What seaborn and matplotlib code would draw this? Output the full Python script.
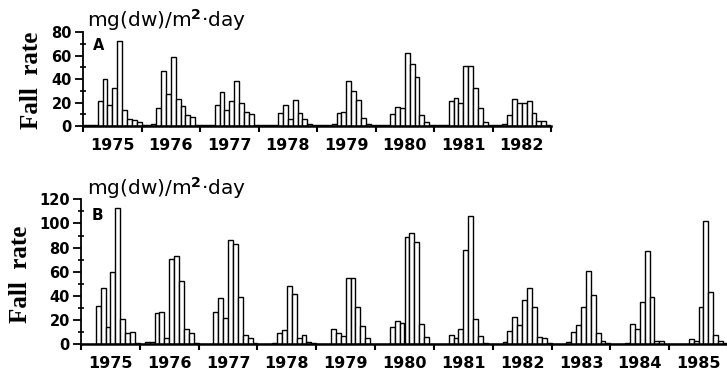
import numpy as np
import pandas as pd
import matplotlib
matplotlib.use("Agg")
import matplotlib.pyplot as plt
import seaborn as sns

# ---------------- data ----------------
months = list(range(1, 13))
years_a = [1975, 1976, 1977, 1978, 1979, 1980, 1981, 1982]
years_b = [1975, 1976, 1977, 1978, 1979, 1980, 1981, 1982, 1983, 1984, 1985]

# Panel A, monthly fall rate mg(dw)/m2/day (Jan..Dec of each year)
fall_a_1975 = [0.5, 0.5, 1, 21, 40, 18, 32, 72, 14, 6, 5, 3]
fall_a_1976 = [0.5, 1, 2, 15, 47, 27, 59, 23, 17, 9, 8, 1]
fall_a_1977 = [0.5, 0.5, 0.5, 18, 29, 14, 21, 38, 20, 12, 10, 1]
fall_a_1978 = [0.5, 0.5, 0.5, 1, 11, 18, 6, 22, 11, 6, 2, 1]
fall_a_1979 = [0.5, 0.5, 0.5, 2, 11, 12, 38, 30, 22, 7, 2, 1]
fall_a_1980 = [0.5, 0.5, 1, 10, 16, 15, 62, 53, 42, 9, 3, 1]
fall_a_1981 = [0.5, 0.5, 1, 21, 24, 20, 51, 51, 32, 15, 3, 1]
fall_a_1982 = [0.5, 0.5, 2, 9, 23, 20, 20, 21, 11, 4, 4, 1]

# Panel B
fall_b_1975 = [0.5, 0.5, 0.5, 32, 47, 14, 60, 113, 21, 9, 10, 1]
fall_b_1976 = [0.5, 1.5, 2, 26, 27, 5, 71, 73, 52, 13, 9, 1]
fall_b_1977 = [0.5, 0.5, 0.5, 27, 38, 22, 86, 83, 39, 8, 5, 1]
fall_b_1978 = [0.5, 0.5, 0.5, 1, 9, 12, 48, 42, 5, 8, 2, 1]
fall_b_1979 = [0.5, 0.5, 0.5, 13, 9, 7, 55, 55, 31, 15, 5, 0.5]
fall_b_1980 = [0.5, 0.5, 0.5, 14, 19, 18, 89, 92, 85, 17, 6, 0.5]
fall_b_1981 = [0.5, 0.5, 0.5, 8, 5, 13, 78, 106, 21, 7, 1, 0.5]
fall_b_1982 = [0.5, 0.5, 2, 11, 23, 16, 37, 47, 31, 6, 5, 1]
fall_b_1983 = [0.5, 0.5, 0.5, 2, 10, 16, 31, 61, 41, 9, 3, 1]
fall_b_1984 = [0.5, 0.5, 0.5, 1, 17, 13, 35, 77, 39, 3, 3, 0.5]
fall_b_1985 = [0.5, 0.5, 0.5, 0.5, 4, 3, 31, 102, 43, 8, 3, 1]

unit_label = "mg(dw)/m$^{\\mathbf{2}}$·day"
ylabel = "Fall  rate"

series_a = [fall_a_1975, fall_a_1976, fall_a_1977, fall_a_1978,
            fall_a_1979, fall_a_1980, fall_a_1981, fall_a_1982]
series_b = [fall_b_1975, fall_b_1976, fall_b_1977, fall_b_1978, fall_b_1979,
            fall_b_1980, fall_b_1981, fall_b_1982, fall_b_1983, fall_b_1984,
            fall_b_1985]


def build(years, series):
    rows = []
    for y, vals in zip(years, series):
        for m, v in zip(months, vals):
            rows.append({"year": y, "month": m, "value": v})
    df = pd.DataFrame(rows)
    df["idx"] = np.arange(len(df))
    return df


df_a = build(years_a, series_a)
df_b = build(years_b, series_b)

sns.set_theme(style="ticks")
plt.rcParams["font.family"] = ["DejaVu Sans"]
plt.rcParams["mathtext.fontset"] = "dejavusans"

W, H = 727, 375
fig = plt.figure(figsize=(W / 100, H / 100), dpi=100)


def px_axes(x0, x1, ytop, ybot):
    return fig.add_axes([x0 / W, 1 - ybot / H, (x1 - x0) / W, (ybot - ytop) / H])


ax_a = px_axes(83, 551, 32, 126)
ax_b = px_axes(81, 728, 199.3, 344.3)


def style(ax, df, years, ymax, ystep, label_size):
    sns.barplot(data=df, x="idx", y="value", color="white", saturation=1,
                edgecolor="black", linewidth=1.0, width=1.0, ax=ax)
    n = len(df)
    ax.set_xlim(-0.5, n - 0.5)
    ax.set_ylim(0, ymax)
    for s in ["top", "right"]:
        ax.spines[s].set_visible(False)
    ax.spines["left"].set_linewidth(1.3)
    ax.spines["bottom"].set_linewidth(1.8)
    ax.spines["left"].set_color("black")
    ax.spines["bottom"].set_color("black")
    ax.set_xlabel("")
    ax.set_ylabel("")
    # year boundaries (major) and year labels (minor)
    ax.set_xticks(np.arange(0, n + 1, 12) - 0.5)
    ax.set_xticklabels([])
    ax.set_xticks(np.arange(len(years)) * 12 + 5.5, minor=True)
    ax.set_xticklabels([str(y) for y in years], minor=True,
                       fontweight="bold", fontsize=11.5)
    ax.tick_params(axis="x", which="major", direction="out", length=4.5,
                   width=1.5, color="black")
    ax.tick_params(axis="x", which="minor", length=0, pad=8.5)
    ax.set_yticks(np.arange(0, ymax + 1, ystep))
    ax.set_yticklabels([str(v) for v in np.arange(0, ymax + 1, ystep)],
                       fontweight="bold", fontsize=label_size)
    ax.set_yticks(np.arange(ystep / 2, ymax, ystep), minor=True)
    ax.tick_params(axis="y", which="major", direction="out", length=5.5,
                   width=1.3, pad=2.5, color="black")
    ax.tick_params(axis="y", which="minor", direction="inout", length=4,
                   width=1.2, color="black")
    for t in ax.get_xticklabels(minor=True) + ax.get_yticklabels():
        t.set_color("black")
    ax.set_facecolor("white")


style(ax_a, df_a, years_a, 80, 20, 10.5)
style(ax_b, df_b, years_b, 120, 20, 10.5)

# unit labels and panel letters
fig.text(87 / W, 1 - 27 / H, unit_label, fontsize=14.5, va="baseline",
         ha="left", color="black")
fig.text(87 / W, 1 - 195 / H, unit_label, fontsize=14.5, va="baseline",
         ha="left", color="black")
fig.text(93 / W, 1 - 50 / H, "A", fontsize=10.5, fontweight="bold",
         va="baseline", ha="left", color="black")
fig.text(92 / W, 1 - 220.5 / H, "B", fontsize=11, fontweight="bold",
         va="baseline", ha="left", color="black")

fig.text(31 / W, 1 - 80 / H, ylabel, rotation=90, ha="center", va="center",
         fontsize=18, fontweight="bold", family=["Liberation Serif"],
         color="black")
fig.text(21 / W, 1 - 274 / H, ylabel, rotation=90, ha="center", va="center",
         fontsize=18, fontweight="bold", family=["Liberation Serif"],
         color="black")

fig.savefig("out.png", dpi=100, facecolor="white")
